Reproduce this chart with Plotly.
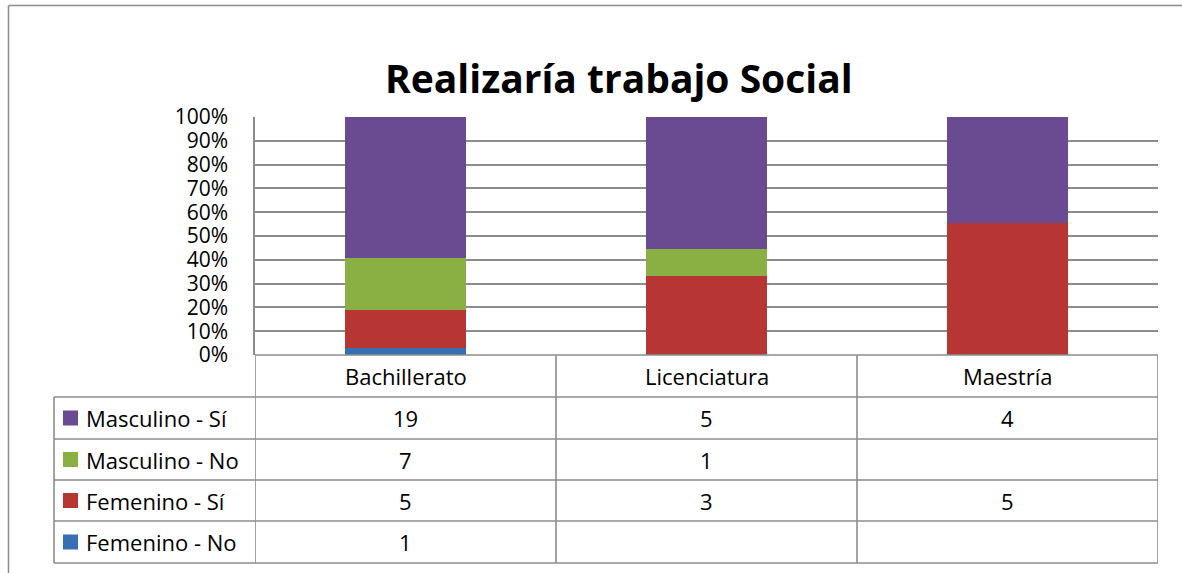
import plotly.graph_objects as go

# ---------------- data ----------------
categories = ["Bachillerato", "Licenciatura", "Maestría"]
femenino_no = [1, None, None]
femenino_si = [5, 3, 5]
masculino_no = [7, 1, None]
masculino_si = [19, 5, 4]
series_names = ["Femenino - No", "Femenino - Sí", "Masculino - No", "Masculino - Sí"]
series_values = [femenino_no, femenino_si, masculino_no, masculino_si]
series_colors = ["#3770B2", "#B73634", "#8AAF43", "#6A4A91"]
y_tick_vals = [0, 10, 20, 30, 40, 50, 60, 70, 80, 90, 100]
y_tick_text = ["0%", "10%", "20%", "30%", "40%", "50%", "60%", "70%", "80%", "90%", "100%"]
title_text = "Realizaría trabajo Social"

# ---------------- geometry (pixels) ----------------
W, H = 1182, 573
L, R, T, B = 255, 1158, 117, 355
PW, PH = R - L, B - T
FONT = "Open Sans"
GRID = "#8c8c8c"
TXT = 22


def px(xp):
    return (xp - L) / PW


def py(yp):
    return (B - yp) / PH


fig = go.Figure()
for name, vals, col in zip(series_names, series_values, series_colors):
    fig.add_trace(go.Bar(
        x=categories, y=vals, name=name, width=0.4,
        marker=dict(color=col, line=dict(width=0)),
        showlegend=False,
    ))

shapes = []
annotations = []

# outer chart frame (top & left edges visible)
shapes.append(dict(type="line", xref="paper", yref="paper",
                   x0=px(8.5), x1=px(1200), y0=py(5.5), y1=py(5.5),
                   line=dict(color=GRID, width=1.5)))
shapes.append(dict(type="line", xref="paper", yref="paper",
                   x0=px(8.5), x1=px(8.5), y0=py(5.5), y1=py(600),
                   line=dict(color=GRID, width=1.5)))

# data table
row_edges = [355, 397, 439, 480, 521, 563]
table_left = 54
for i, yv in enumerate(row_edges):
    x0 = px(L) if i == 0 else px(table_left)
    shapes.append(dict(type="line", xref="paper", yref="paper",
                       x0=x0, x1=px(R), y0=py(yv), y1=py(yv),
                       line=dict(color=GRID, width=1.6)))
n = len(categories)
for k in range(n + 1):
    xv = k - 0.5
    shapes.append(dict(type="line", xref="x", yref="paper",
                       x0=xv, x1=xv, y0=py(row_edges[0]), y1=py(row_edges[-1]),
                       line=dict(color=GRID, width=1.6)))
shapes.append(dict(type="line", xref="paper", yref="paper",
                   x0=px(table_left), x1=px(table_left),
                   y0=py(row_edges[1]), y1=py(row_edges[-1]),
                   line=dict(color=GRID, width=1.6)))

hdr_mid = (row_edges[0] + row_edges[1]) / 2
for cat in categories:
    annotations.append(dict(x=cat, xref="x", y=py(hdr_mid), yref="paper",
                            text=cat, showarrow=False, xanchor="center", yanchor="middle",
                            font=dict(family=FONT, size=TXT, color="black")))

table_order = list(range(len(series_names)))[::-1]
for r, si in enumerate(table_order):
    ymid = (row_edges[r + 1] + row_edges[r + 2]) / 2
    shapes.append(dict(type="rect", xref="paper", yref="paper",
                       x0=px(63), x1=px(78), y0=py(ymid - 7.5), y1=py(ymid + 7.5),
                       fillcolor=series_colors[si], line=dict(width=0)))
    annotations.append(dict(x=px(84), xref="paper", y=py(ymid), yref="paper",
                            text=series_names[si], showarrow=False,
                            xanchor="left", yanchor="middle",
                            font=dict(family=FONT, size=TXT, color="black")))
    for cat, v in zip(categories, series_values[si]):
        if v is None:
            continue
        annotations.append(dict(x=cat, xref="x", y=py(ymid), yref="paper",
                                text=str(v), showarrow=False,
                                xanchor="center", yanchor="middle",
                                font=dict(family=FONT, size=TXT, color="black")))

annotations.append(dict(x=px(619), xref="paper", y=py(78), yref="paper",
                        text="<b>" + title_text + "</b>", showarrow=False,
                        xanchor="center", yanchor="middle",
                        font=dict(family=FONT, size=39, color="black")))

fig.update_layout(
    width=W, height=H,
    margin=dict(l=L, r=W - R, t=T, b=H - B, pad=0),
    barmode="stack", barnorm="percent",
    paper_bgcolor="white", plot_bgcolor="white",
    shapes=shapes, annotations=annotations,
    font=dict(family=FONT, color="black"),
    xaxis=dict(range=[-0.5, n - 0.5], showticklabels=False, showgrid=False,
               zeroline=False, showline=False, ticks=""),
    yaxis=dict(range=[0, 100], tickmode="array", tickvals=y_tick_vals, ticktext=y_tick_text,
               showgrid=True, gridcolor=GRID, gridwidth=1.5, zeroline=False,
               showline=True, linecolor=GRID, linewidth=1.5,
               ticks="", ticklabelstandoff=21,
               tickfont=dict(family=FONT, size=21, color="black")),
)

fig.write_html("out.html", config={"displayModeBar": False},
               post_script="document.body.style.margin='0';document.body.style.padding='0';")
